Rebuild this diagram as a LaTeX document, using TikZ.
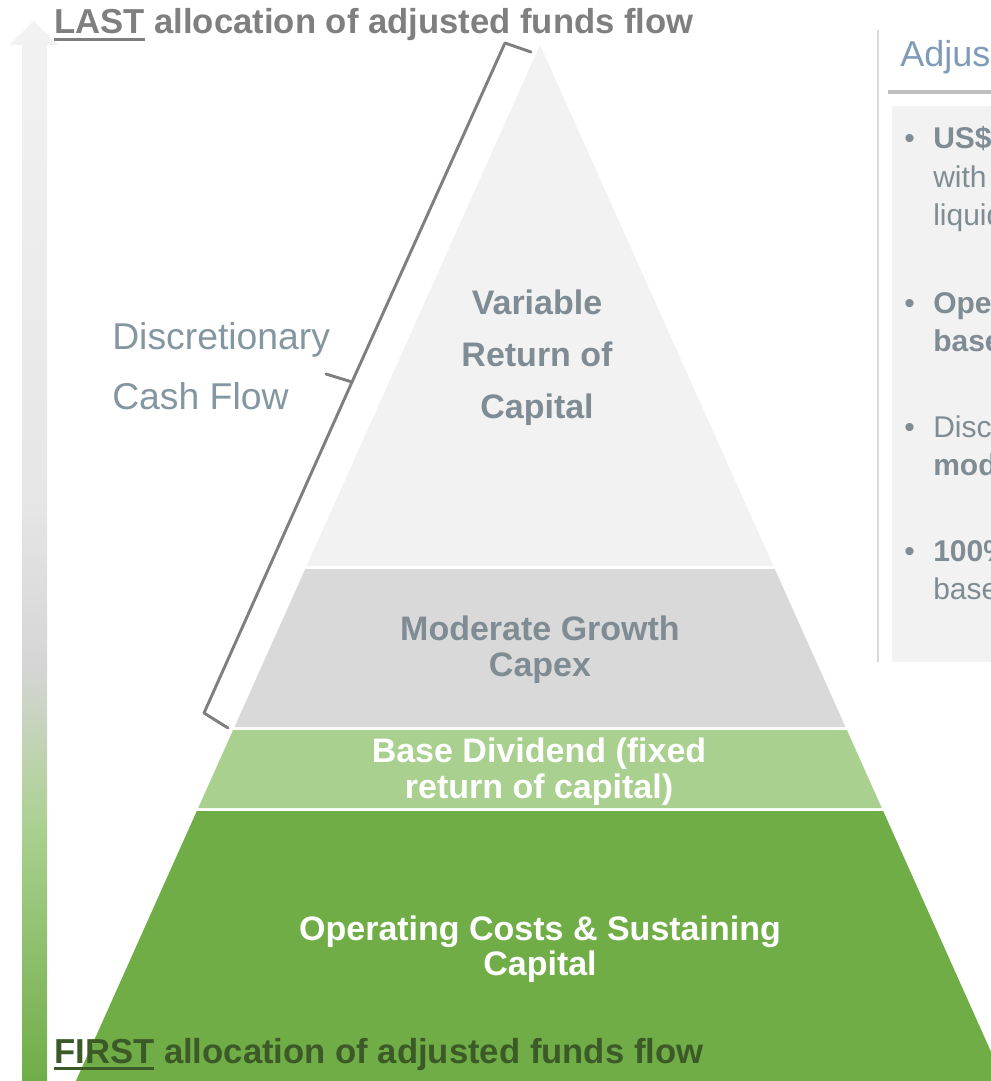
\documentclass[tikz,border=0pt]{standalone}
\usepackage{fontspec}
\setmainfont{Liberation Sans}
\usetikzlibrary{calc}

\definecolor{topgray}{HTML}{F2F2F2}
\definecolor{midgray}{HTML}{D9D9D9}
\definecolor{lgreen}{HTML}{A9D08E}
\definecolor{dgreen}{HTML}{70AD47}
\definecolor{shgray}{HTML}{D5D5D5}
\definecolor{shlight}{HTML}{E6E6E6}
\definecolor{labelgray}{HTML}{7F8C93}
\definecolor{dcfgray}{HTML}{8497A0}
\definecolor{lastgray}{HTML}{7F7F7F}
\definecolor{firstgreen}{HTML}{3B5A27}
\definecolor{titleblue}{HTML}{7F9BB8}
\definecolor{rulegray}{HTML}{BFBFBF}
\definecolor{bracegray}{HTML}{7F7F7F}
\definecolor{panelline}{HTML}{D9D9D9}

\pgfdeclareverticalshading{flowshade}{100bp}{color(0bp)=(dgreen); color(25bp)=(dgreen); color(36.7bp)=(lgreen); color(44.5bp)=(shgray); color(52.4bp)=(shlight); color(75bp)=(topgray); color(100bp)=(topgray)}

\newcommand\ulword[2]{\setbox0\hbox{#2}\rlap{\color{#1}\rule[-5.25pt]{\wd0}{2.4pt}}\box0\relax}

\tikzset{
  layerlabel/.style={inner sep=0pt, anchor=north, align=center, font=\fontsize{25.5}{27}\selectfont\bfseries},
  headline/.style={inner sep=0pt, anchor=base west, font=\fontsize{26}{30}\selectfont\bfseries},
  paneltext/.style={inner sep=0pt, anchor=base west, text=labelgray, font=\fontsize{22.5}{27}\selectfont},
  bulletmark/.style={inner sep=0pt, anchor=base west, text=labelgray, font=\fontsize{22.5}{27}\selectfont},
  bracepath/.style={draw=bracegray, line width=2.2pt, line join=round, line cap=round}
}

\begin{document}
\begin{tikzpicture}[x=0.75pt, y=-0.75pt]
\useasboundingbox (0,0) rectangle (991,1081);
\clip (0,0) rectangle (991,1081);

% flow arrow
\shade[shading=flowshade] (22,1081) -- (22,45) -- (9,45) -- (33.5,21) -- (58,45) -- (47,45) -- (47,1081) -- cycle;

% pyramid
\coordinate (apex) at (540,45);
\fill[topgray] (apex) -- (306.6,566) -- (773.4,566) -- cycle;
\fill[midgray] (305.2,569) -- (774.8,569) -- (845.5,727) -- (234.5,727) -- cycle;
\fill[lgreen] (233.1,730) -- (846.9,730) -- (881.8,808) -- (198.2,808) -- cycle;
\fill[dgreen] (196.8,811) -- (883.2,811) -- (1004.1,1081) -- (75.9,1081) -- cycle;

% layer labels
\node[layerlabel, text=labelgray, font=\fontsize{25.5}{39}\selectfont\bfseries] (vrc) at (537,290) {Variable\\Return of\\Capital};
\node[layerlabel, text=labelgray] (mgc) at (540,616) {Moderate Growth\\Capex};
\node[layerlabel, text=white] (bd) at (539,738) {Base Dividend (fixed\\return of capital)};
\node[layerlabel, text=white, font=\fontsize{25.5}{26.25}\selectfont\bfseries] (ocs) at (540,916) {Operating Costs \& Sustaining\\Capital};

% brace
\coordinate (b1) at (531,52);
\coordinate (b2) at (505,43);
\coordinate (b3) at (352,382);
\coordinate (b4) at (326,374);
\coordinate (b5) at (204,713);
\coordinate (b6) at (228,728);
\draw[bracepath] (b1) -- (b2) -- (b3) -- (b4);
\draw[bracepath] (b3) -- (b5) -- (b6);

\node[inner sep=0pt, anchor=north west, align=left, text=dcfgray, font=\fontsize{28}{45}\selectfont] (dcf) at (112,322) {Discretionary\\Cash Flow};

% headlines
\node[headline, text=lastgray] (last) at (54,34) {\ulword{lastgray}{LAST} allocation of adjusted funds flow};
\node[headline, text=firstgreen] (first) at (54,1063) {\ulword{firstgreen}{FIRST} allocation of adjusted funds flow};

% right panel
\draw[panelline, line width=1.5pt] (878,30) -- (878,662);
\node[inner sep=0pt, anchor=base west, text=titleblue, font=\fontsize{27}{30}\selectfont] (title) at (900,67) {Adjus};
\draw[rulegray, line width=3pt] (888,92.5) -- (995,92.5);
\fill[topgray] (892,106) rectangle (995,662);

\node[bulletmark] (m1) at (904,148) {•};
\node[paneltext] (t1a) at (933,148) {\bfseries US\$};
\node[paneltext] (t1b) at (933,187) {with};
\node[paneltext] (t1c) at (933,225) {liquid};

\node[bulletmark] (m2) at (904,313) {•};
\node[paneltext] (t2a) at (933,313) {\bfseries Ope};
\node[paneltext] (t2b) at (933,351) {\bfseries base};

\node[bulletmark] (m3) at (904,437) {•};
\node[paneltext] (t3a) at (933,437) {Disc};
\node[paneltext] (t3b) at (933,475) {\bfseries mod};

\node[bulletmark] (m4) at (904,561) {•};
\node[paneltext] (t4a) at (933,561) {\bfseries 100\%};
\node[paneltext] (t4b) at (933,599) {base};
\end{tikzpicture}
\end{document}
